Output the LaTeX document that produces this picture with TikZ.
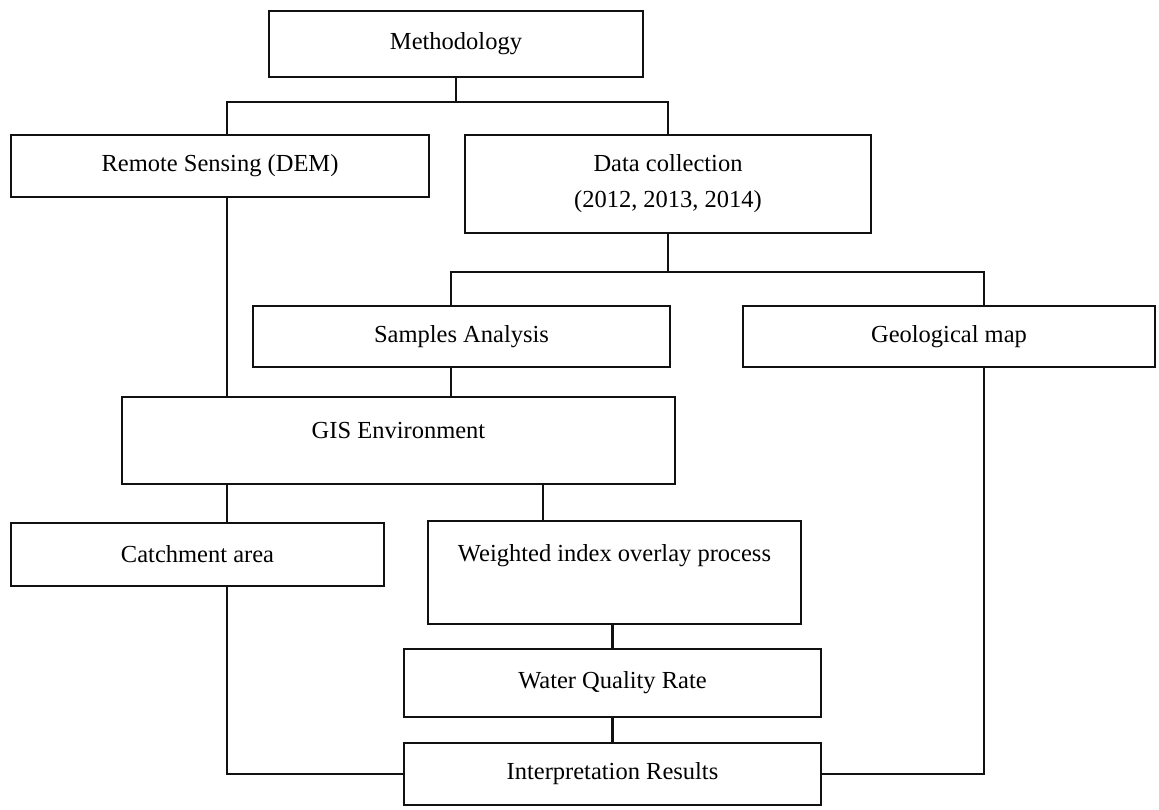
\documentclass[tikz,border=0pt]{standalone}
\usepackage{fontspec}
\setmainfont{Liberation Serif}
\usepackage{tikz}
\definecolor{ink}{HTML}{111111}

\begin{document}
\begin{tikzpicture}[x=1pt, y=-1pt, font=\fontsize{24.5}{36}\selectfont,
  box/.style={draw=ink, line width=2.2pt, align=center, inner sep=0pt},
  link/.style={draw=ink, line width=2.2pt}]
  \useasboundingbox (0,0) rectangle (1159,809);
  \node[box, minimum width=374pt, minimum height=66pt] (meth)  at (456,44)      {Methodology};
  \node[box, minimum width=418pt, minimum height=62pt] (rs)    at (220,166)     {Remote Sensing (DEM)};
  \node[box, minimum width=406pt, minimum height=98pt] (dc)    at (668,184)     {Data collection\\(2012, 2013, 2014)};
  \node[box, minimum width=417pt, minimum height=61pt] (samp)  at (461.5,336.5) {Samples Analysis};
  \node[box, minimum width=412pt, minimum height=61pt] (geo)   at (949,336.5)   {Geological map};
  \node[box, minimum width=553pt, text height=41pt, text depth=46pt] (gis) at (398.5,440.5) {GIS Environment};
  \node[box, minimum width=373pt, minimum height=63pt] (catch) at (197.5,554.5) {Catchment area};
  \node[box, minimum width=373pt, text height=40.5pt, text depth=62.5pt] (wio) at (614.5,572.5) {Weighted index overlay process};
  \node[box, minimum width=417pt, minimum height=68pt] (wqr)   at (612.5,683)   {Water Quality Rate};
  \node[box, minimum width=417pt, minimum height=62pt] (ir)    at (612.5,774)   {Interpretation Results};
  % branching bars
  \coordinate (bar1) at (456,102);
  \coordinate (bar2) at (668,272);
  % off-centre connector ends
  \coordinate (rsout)    at ([xshift=7pt]rs.south);
  \coordinate (sampout)  at ([xshift=-10.5pt]samp.south);
  \coordinate (catchin)  at ([xshift=29.5pt]catch.north);
  \coordinate (catchout) at ([xshift=29.5pt]catch.south);
  \coordinate (wioin)    at ([xshift=-71.5pt]wio.north);
  \coordinate (geoout)   at ([xshift=35pt]geo.south);
  \draw[link] (meth) -- (bar1);
  \draw[link] ([xshift=7pt]rs.north) |- (bar1) -| (dc.north);
  \draw[link] (dc) -- (bar2);
  \draw[link] ([xshift=-10.5pt]samp.north) |- (bar2) -| ([xshift=35pt]geo.north);
  \draw[link] (rsout) -- (rsout |- gis.north);
  \draw[link] (sampout) -- (sampout |- gis.north);
  \draw[link] (catchin) -- (catchin |- gis.south);
  \draw[link] (wioin) -- (wioin |- gis.south);
  \draw[link] (wqr.north) -- (wqr.north |- wio.south);
  \draw[link] (wqr) -- (ir);
  \draw[link] (catchout) |- (ir.west);
  \draw[link] (geoout) |- (ir.east);
\end{tikzpicture}
\end{document}
